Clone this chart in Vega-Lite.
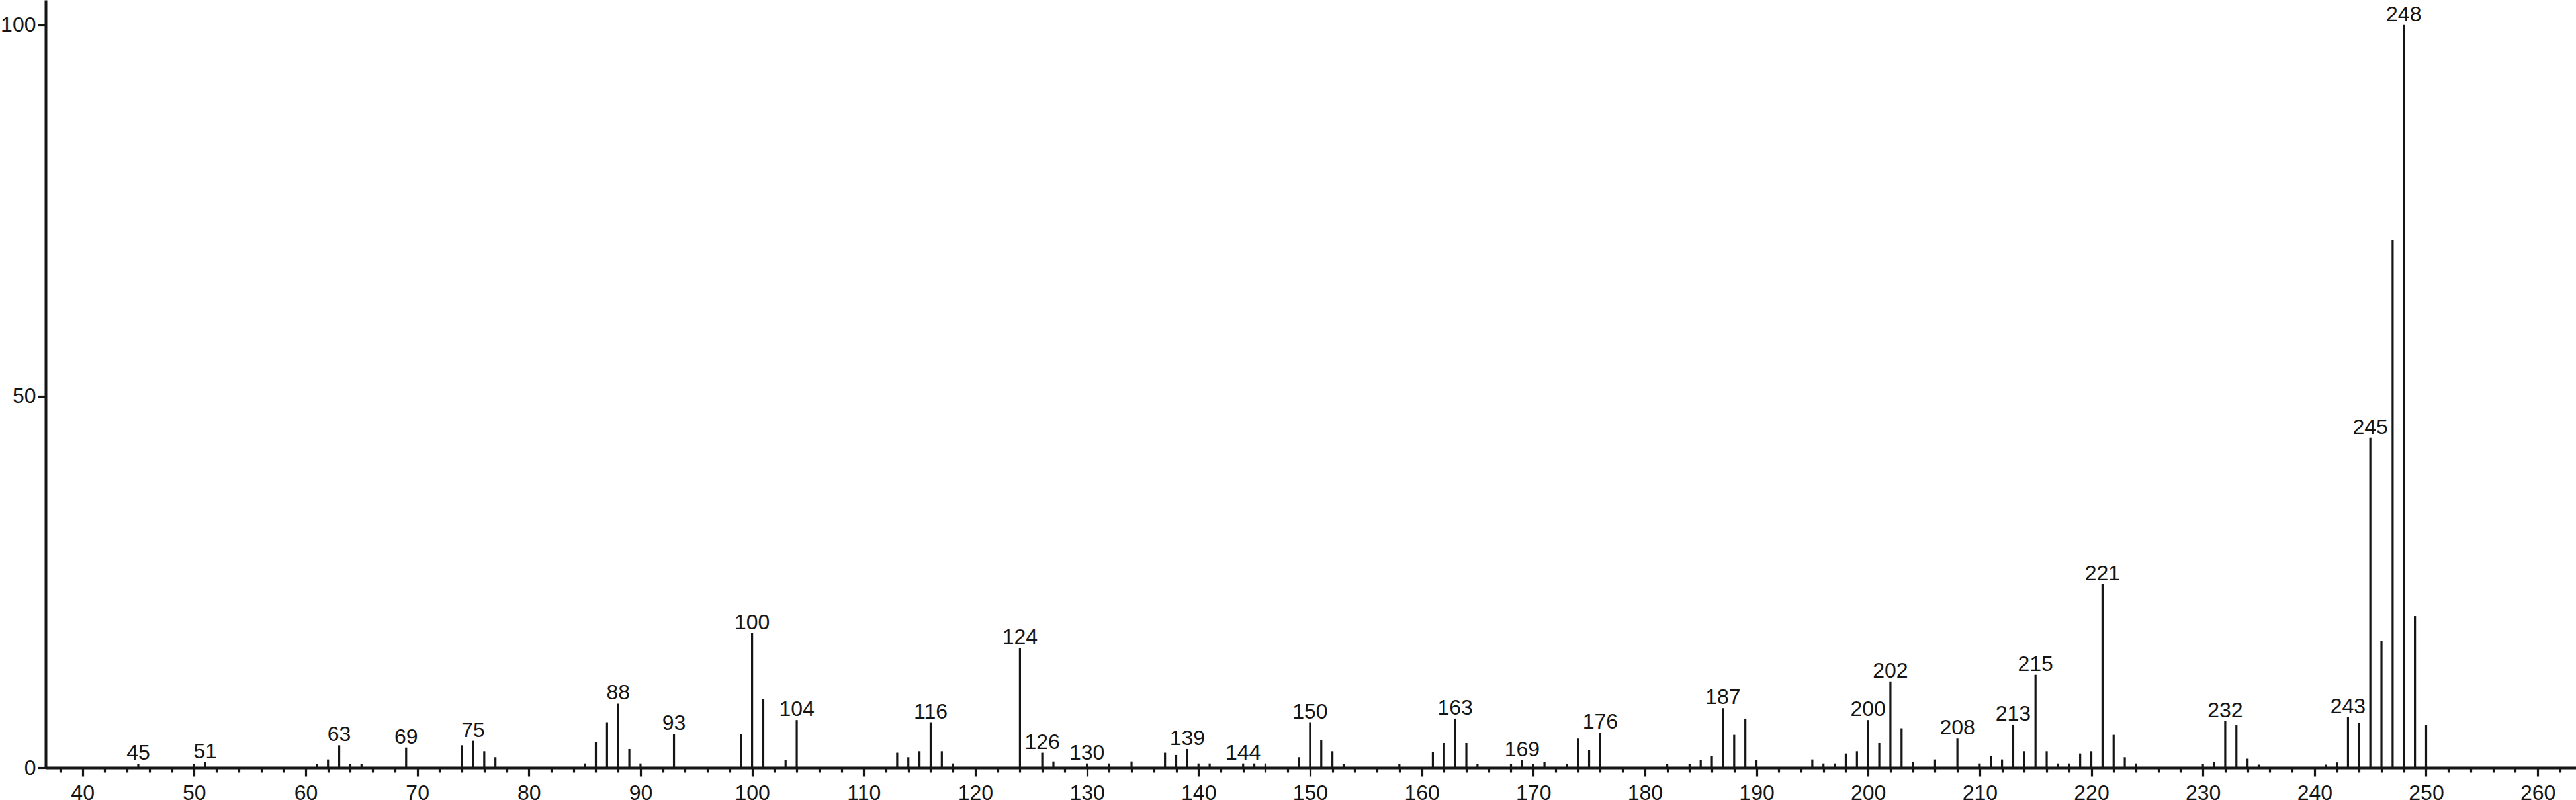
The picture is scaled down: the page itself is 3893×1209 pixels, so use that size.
{
  "$schema": "https://vega.github.io/schema/vega-lite/v6.json",
  "autosize": "none",
  "padding": {"left": 69, "top": 0, "right": 0, "bottom": 49},
  "width": 3824,
  "height": 1160,
  "background": "white",
  "config": {"view": {"stroke": null}, "font": "Liberation Sans"},
  "data": {"values": [
    {"mz": 45, "intensity": 0.5, "label": "45"},
    {"mz": 50, "intensity": 0.45},
    {"mz": 51, "intensity": 0.75, "label": "51"},
    {"mz": 61, "intensity": 0.5},
    {"mz": 62, "intensity": 1.1},
    {"mz": 63, "intensity": 3.0, "label": "63"},
    {"mz": 64, "intensity": 0.5},
    {"mz": 65, "intensity": 0.5},
    {"mz": 69, "intensity": 2.7, "label": "69"},
    {"mz": 74, "intensity": 3.0},
    {"mz": 75, "intensity": 3.6, "label": "75"},
    {"mz": 76, "intensity": 2.2},
    {"mz": 77, "intensity": 1.4},
    {"mz": 85, "intensity": 0.56},
    {"mz": 86, "intensity": 3.4},
    {"mz": 87, "intensity": 6.1},
    {"mz": 88, "intensity": 8.6, "label": "88"},
    {"mz": 89, "intensity": 2.5},
    {"mz": 90, "intensity": 0.56},
    {"mz": 93, "intensity": 4.5, "label": "93"},
    {"mz": 99, "intensity": 4.5},
    {"mz": 100, "intensity": 18.1, "label": "100"},
    {"mz": 101, "intensity": 9.2},
    {"mz": 103, "intensity": 1.0},
    {"mz": 104, "intensity": 6.4, "label": "104"},
    {"mz": 113, "intensity": 2.0},
    {"mz": 114, "intensity": 1.4},
    {"mz": 115, "intensity": 2.2},
    {"mz": 116, "intensity": 6.1, "label": "116"},
    {"mz": 117, "intensity": 2.2},
    {"mz": 118, "intensity": 0.56},
    {"mz": 124, "intensity": 16.1, "label": "124"},
    {"mz": 126, "intensity": 2.0, "label": "126"},
    {"mz": 127, "intensity": 0.83},
    {"mz": 130, "intensity": 0.56, "label": "130"},
    {"mz": 132, "intensity": 0.56},
    {"mz": 134, "intensity": 0.83},
    {"mz": 137, "intensity": 2.0},
    {"mz": 138, "intensity": 1.7},
    {"mz": 139, "intensity": 2.5, "label": "139"},
    {"mz": 140, "intensity": 0.56},
    {"mz": 141, "intensity": 0.56},
    {"mz": 144, "intensity": 0.56, "label": "144"},
    {"mz": 145, "intensity": 0.56},
    {"mz": 146, "intensity": 0.56},
    {"mz": 149, "intensity": 1.4},
    {"mz": 150, "intensity": 6.1, "label": "150"},
    {"mz": 151, "intensity": 3.65},
    {"mz": 152, "intensity": 2.2},
    {"mz": 153, "intensity": 0.5},
    {"mz": 158, "intensity": 0.45},
    {"mz": 161, "intensity": 2.1},
    {"mz": 162, "intensity": 3.3},
    {"mz": 163, "intensity": 6.6, "label": "163"},
    {"mz": 164, "intensity": 3.3},
    {"mz": 165, "intensity": 0.45},
    {"mz": 168, "intensity": 0.45},
    {"mz": 169, "intensity": 1.0, "label": "169"},
    {"mz": 170, "intensity": 0.45},
    {"mz": 171, "intensity": 0.75},
    {"mz": 173, "intensity": 0.45},
    {"mz": 174, "intensity": 3.9},
    {"mz": 175, "intensity": 2.4},
    {"mz": 176, "intensity": 4.7, "label": "176"},
    {"mz": 182, "intensity": 0.45},
    {"mz": 184, "intensity": 0.45},
    {"mz": 185, "intensity": 1.0},
    {"mz": 186, "intensity": 1.6},
    {"mz": 187, "intensity": 8.0, "label": "187"},
    {"mz": 188, "intensity": 4.4},
    {"mz": 189, "intensity": 6.6},
    {"mz": 190, "intensity": 1.0},
    {"mz": 195, "intensity": 1.1},
    {"mz": 196, "intensity": 0.56},
    {"mz": 197, "intensity": 0.56},
    {"mz": 198, "intensity": 1.9},
    {"mz": 199, "intensity": 2.2},
    {"mz": 200, "intensity": 6.4, "label": "200"},
    {"mz": 201, "intensity": 3.3},
    {"mz": 202, "intensity": 11.6, "label": "202"},
    {"mz": 203, "intensity": 5.3},
    {"mz": 204, "intensity": 0.8},
    {"mz": 206, "intensity": 1.1},
    {"mz": 208, "intensity": 3.9, "label": "208"},
    {"mz": 210, "intensity": 0.56},
    {"mz": 211, "intensity": 1.6},
    {"mz": 212, "intensity": 1.1},
    {"mz": 213, "intensity": 5.8, "label": "213"},
    {"mz": 214, "intensity": 2.2},
    {"mz": 215, "intensity": 12.5, "label": "215"},
    {"mz": 216, "intensity": 2.2},
    {"mz": 217, "intensity": 0.56},
    {"mz": 218, "intensity": 0.56},
    {"mz": 219, "intensity": 1.9},
    {"mz": 220, "intensity": 2.2},
    {"mz": 221, "intensity": 24.7, "label": "221"},
    {"mz": 222, "intensity": 4.4},
    {"mz": 223, "intensity": 1.4},
    {"mz": 224, "intensity": 0.56},
    {"mz": 230, "intensity": 0.45},
    {"mz": 231, "intensity": 0.75},
    {"mz": 232, "intensity": 6.25, "label": "232"},
    {"mz": 233, "intensity": 5.7},
    {"mz": 234, "intensity": 1.2},
    {"mz": 235, "intensity": 0.4},
    {"mz": 241, "intensity": 0.4},
    {"mz": 242, "intensity": 0.7},
    {"mz": 243, "intensity": 6.8, "label": "243"},
    {"mz": 244, "intensity": 6.0},
    {"mz": 245, "intensity": 44.4, "label": "245"},
    {"mz": 246, "intensity": 17.1},
    {"mz": 247, "intensity": 71.1},
    {"mz": 248, "intensity": 100, "label": "248"},
    {"mz": 249, "intensity": 20.4},
    {"mz": 250, "intensity": 5.7}
  ]},
  "resolve": {"axis": {"x": "independent"}},
  "layer": [
    {
      "mark": {"type": "rule", "color": "#151515", "strokeWidth": 3.2},
      "encoding": {
        "x": {
          "field": "mz", "type": "quantitative",
          "scale": {"domain": [36.7, 263.43], "nice": false, "zero": false},
          "axis": {
            "orient": "bottom",
            "values": [40, 50, 60, 70, 80, 90, 100, 110, 120, 130, 140, 150, 160, 170, 180, 190, 200, 210, 220, 230, 240, 250, 260],
            "title": null, "grid": false,
            "domainColor": "#151515", "domainWidth": 4,
            "tickColor": "#151515", "tickWidth": 3.2, "tickSize": 13,
            "labelFont": "Liberation Sans", "labelFontSize": 32, "labelColor": "#151515",
            "labelPadding": 10, "labelFlush": false, "labelOverlap": false
          }
        },
        "y": {
          "field": "intensity", "type": "quantitative",
          "scale": {"domain": [0, 103.36], "nice": false},
          "axis": {
            "values": [0, 50, 100],
            "title": null, "grid": false,
            "domainColor": "#151515", "domainWidth": 4,
            "tickColor": "#151515", "tickWidth": 3.2, "tickSize": 12,
            "labelFont": "Liberation Sans", "labelFontSize": 32, "labelColor": "#151515",
            "labelPadding": 3, "labelFlush": false, "labelOverlap": false
          }
        },
        "y2": {"datum": 0}
      }
    },
    {
      "transform": [{"filter": "datum.label"}],
      "mark": {"type": "text", "font": "Liberation Sans", "fontSize": 32, "color": "#151515", "baseline": "alphabetic", "align": "center", "dy": -6},
      "encoding": {
        "x": {
          "field": "mz", "type": "quantitative",
          "axis": {
            "orient": "bottom",
            "values": [38, 42, 44, 46, 48, 52, 54, 56, 58, 62, 64, 66, 68, 72, 74, 76, 78, 82, 84, 86, 88, 92, 94, 96, 98, 102, 104, 106, 108, 112, 114, 116, 118, 122, 124, 126, 128, 132, 134, 136, 138, 142, 144, 146, 148, 152, 154, 156, 158, 162, 164, 166, 168, 172, 174, 176, 178, 182, 184, 186, 188, 192, 194, 196, 198, 202, 204, 206, 208, 212, 214, 216, 218, 222, 224, 226, 228, 232, 234, 236, 238, 242, 244, 246, 248, 252, 254, 256, 258, 262],
            "title": null, "grid": false, "domain": false, "labels": false,
            "tickColor": "#151515", "tickWidth": 3.2, "tickSize": 7
          }
        },
        "y": {"field": "intensity", "type": "quantitative"},
        "text": {"field": "label", "type": "nominal"}
      }
    }
  ]
}
